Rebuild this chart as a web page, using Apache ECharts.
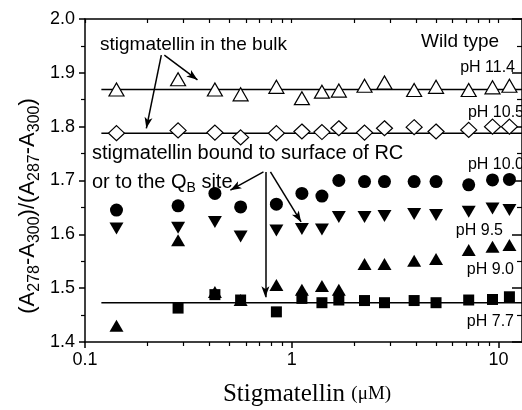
<!DOCTYPE html>
<html>
<head>
<meta charset="utf-8">
<script src="https://cdn.jsdelivr.net/npm/echarts@6/dist/echarts.min.js"></script>
<style>
html, body { margin: 0; padding: 0; background: #fff; }
#chart { width: 522px; height: 410px; }
</style>
</head>
<body>
<div id="chart"></div>
<script>
// stigmatellin concentration (uM)
const conc = [0.142, 0.282, 0.425, 0.566, 0.843, 1.12, 1.40, 1.69, 2.25, 2.81, 3.91, 4.99, 7.18, 9.36, 11.3]
// (A278-A300)/(A287-A300) at each pH
const ph114 = [1.869, 1.888, 1.869, 1.860, 1.874, 1.853, 1.865, 1.867, 1.876, 1.882, 1.868, 1.874, 1.868, 1.873, 1.876]
const ph105 = [1.788, 1.793, 1.789, 1.780, 1.788, 1.791, 1.790, 1.797, 1.789, 1.797, 1.799, 1.791, 1.794, 1.800, 1.800]
const ph100 = [1.645, 1.653, 1.676, 1.651, 1.656, 1.676, 1.671, 1.700, 1.698, 1.698, 1.698, 1.698, 1.692, 1.701, 1.702]
const ph95 = [1.611, 1.612, 1.623, 1.596, 1.607, 1.610, 1.609, 1.632, 1.632, 1.634, 1.638, 1.636, 1.642, 1.648, 1.645]
const ph90 = [1.430, 1.589, 1.493, 1.478, 1.506, 1.497, 1.504, 1.497, 1.545, 1.545, 1.551, 1.554, 1.571, 1.577, 1.580]
const ph77 = [null, 1.463, 1.488, 1.478, 1.456, 1.481, 1.473, 1.478, 1.477, 1.473, 1.477, 1.473, 1.478, 1.479, 1.484]

// horizontal reference lines
const fitX = [0.12, 14]
const fitLevels = [1.869, 1.788, 1.473]

// tick positions for log axis
const majorTicks = [0.1, 1, 10]
const minorTicks = [0.2, 0.3, 0.4, 0.5, 0.6, 0.7, 0.8, 0.9, 2, 3, 4, 5, 6, 7, 8, 9]

// arrows (data coords)
const arrows = [
  [[0.242, 1.933], [0.350, 1.887]],
  [[0.234, 1.933], [0.198, 1.797]],
  [[0.730, 1.716], [0.505, 1.682]],
  [[0.746, 1.716], [0.746, 1.483]],
  [[0.789, 1.716], [1.11, 1.623]]
]

const SANS = '"Liberation Sans", Arial, sans-serif'
const SERIF = '"Liberation Serif", "Times New Roman", serif'

const pts = (ys) => conc.map((c, i) => [c, ys[i]]).filter(p => p[1] != null)

const scatter = (name, ys, symbol, size, filled, rotate) => ({
  name,
  type: 'scatter',
  data: pts(ys),
  symbol,
  symbolSize: size,
  symbolRotate: rotate || 0,
  itemStyle: {
    color: filled ? '#000' : '#fff',
    borderColor: '#000',
    borderWidth: filled ? 0 : 1.2,
    opacity: 1
  },
  z: 5
})

const chart = echarts.init(document.getElementById('chart'))

const xBase = {
  type: 'log',
  logBase: 10,
  min: 0.1,
  max: 13,
  splitLine: { show: false },
  axisLine: { show: true, onZero: false, lineStyle: { color: '#000', width: 1.5 } }
}

chart.setOption({
  animation: false,
  backgroundColor: '#fff',
  grid: { left: 85, right: -4, top: 19, bottom: 68 },
  xAxis: [
    {
      ...xBase,
      position: 'bottom',
      axisTick: { show: true, inside: false, length: 6, lineStyle: { color: '#000', width: 1.5 }, customValues: majorTicks },
      axisLabel: { show: true, margin: 9, color: '#000', fontSize: 18, fontFamily: SANS, customValues: majorTicks, formatter: v => String(v) }
    },
    {
      ...xBase,
      position: 'bottom',
      axisLine: { show: false },
      axisTick: { show: true, inside: false, length: 4, lineStyle: { color: '#000', width: 1.2 }, customValues: minorTicks },
      axisLabel: { show: false }
    },
    {
      ...xBase,
      position: 'top',
      axisTick: { show: true, inside: true, length: 4, lineStyle: { color: '#000', width: 1.2 }, customValues: majorTicks.concat(minorTicks) },
      axisLabel: { show: false }
    }
  ],
  yAxis: [
    {
      type: 'value',
      min: 1.4,
      max: 2.0,
      interval: 0.1,
      position: 'left',
      splitLine: { show: false },
      axisLine: { show: true, onZero: false, lineStyle: { color: '#000', width: 1.5 } },
      axisTick: { show: true, inside: false, length: 6, lineStyle: { color: '#000', width: 1.5 } },
      minorTick: { show: true, splitNumber: 2, length: 4, lineStyle: { color: '#000', width: 1.2 } },
      axisLabel: { margin: 10, color: '#000', fontSize: 18, fontFamily: SANS, formatter: v => v.toFixed(1) }
    },
    {
      type: 'value',
      min: 1.4,
      max: 2.0,
      interval: 0.1,
      position: 'right',
      splitLine: { show: false },
      axisLine: { show: true, onZero: false, lineStyle: { color: '#000', width: 1.5 } },
      axisTick: { show: true, inside: true, length: 10, lineStyle: { color: '#000', width: 1.5 } },
      minorTick: { show: true, splitNumber: 2, length: 5, lineStyle: { color: '#000', width: 1.2 } },
      axisLabel: { show: false }
    }
  ],
  series: [
    ...fitLevels.map(lv => ({
      type: 'line',
      data: fitX.map(x => [x, lv]),
      symbol: 'none',
      lineStyle: { color: '#000', width: 1.5 },
      silent: true,
      z: 3
    })),
    {
      type: 'line',
      data: [],
      silent: true,
      markLine: {
        silent: true,
        symbol: ['none', 'arrow'],
        symbolSize: [6, 11],
        label: { show: false },
        lineStyle: { color: '#000', width: 1.5, type: 'solid' },
        emphasis: { disabled: true },
        data: arrows.map(a => [{ coord: a[0] }, { coord: a[1] }])
      }
    },
    scatter('pH 11.4', ph114, 'triangle', [15, 13], false),
    scatter('pH 10.5', ph105, 'diamond', [16, 15], false),
    scatter('pH 10.0', ph100, 'circle', 13, true),
    scatter('pH 9.5', ph95, 'triangle', [14, 12], true, 180),
    scatter('pH 9.0', ph90, 'triangle', [14, 12], true),
    scatter('pH 7.7', ph77, 'rect', 11, true)
  ],
  graphic: [
    { type: 'text', x: 100, y: 45, style: { text: 'stigmatellin in the bulk', font: '19px ' + SANS, fill: '#000', verticalAlign: 'middle' } },
    { type: 'text', x: 421, y: 42, style: { text: 'Wild type', font: '19px ' + SANS, fill: '#000', verticalAlign: 'middle' } },
    { type: 'text', x: 515, y: 68, style: { text: 'pH 11.4', font: '16px ' + SANS, fill: '#000', align: 'right', verticalAlign: 'middle' } },
    { type: 'text', x: 524, y: 113, style: { text: 'pH 10.5', font: '16px ' + SANS, fill: '#000', align: 'right', verticalAlign: 'middle' } },
    { type: 'text', x: 92, y: 153, style: { text: 'stigmatellin bound to surface of RC', font: '20px ' + SANS, fill: '#000', verticalAlign: 'middle' } },
    {
      type: 'text', x: 92, y: 182,
      style: {
        text: 'or to the Q{sub|B} site',
        font: '20px ' + SANS, fill: '#000', verticalAlign: 'middle', lineHeight: 26,
        rich: { sub: { fontSize: 14, lineHeight: 14, verticalAlign: 'bottom', fontFamily: SANS } }
      }
    },
    { type: 'text', x: 524, y: 165, style: { text: 'pH 10.0', font: '16px ' + SANS, fill: '#000', align: 'right', verticalAlign: 'middle' } },
    { type: 'text', x: 503, y: 231, style: { text: 'pH 9.5', font: '16px ' + SANS, fill: '#000', align: 'right', verticalAlign: 'middle' } },
    { type: 'text', x: 514, y: 270, style: { text: 'pH 9.0', font: '16px ' + SANS, fill: '#000', align: 'right', verticalAlign: 'middle' } },
    { type: 'text', x: 514, y: 322, style: { text: 'pH 7.7', font: '16px ' + SANS, fill: '#000', align: 'right', verticalAlign: 'middle' } },
    {
      type: 'text', x: 28, y: 206, rotation: Math.PI / 2,
      style: {
        text: '(A{s|278}-A{s|300})/(A{s|287}-A{s|300})',
        font: '22px ' + SANS, fill: '#000', align: 'center', verticalAlign: 'middle', lineHeight: 30,
        rich: { s: { fontSize: 16, lineHeight: 16, verticalAlign: 'bottom', fontFamily: SANS } }
      }
    },
    {
      type: 'text', x: 307, y: 394,
      style: {
        text: 'Stigmatellin {u|(μM)}',
        font: '25px ' + SERIF, fill: '#000', align: 'center', verticalAlign: 'middle',
        rich: { u: { fontSize: 19, fontFamily: SERIF } }
      }
    }
  ]
})

window.addEventListener('resize', () => chart.resize())
</script>
</body>
</html>
